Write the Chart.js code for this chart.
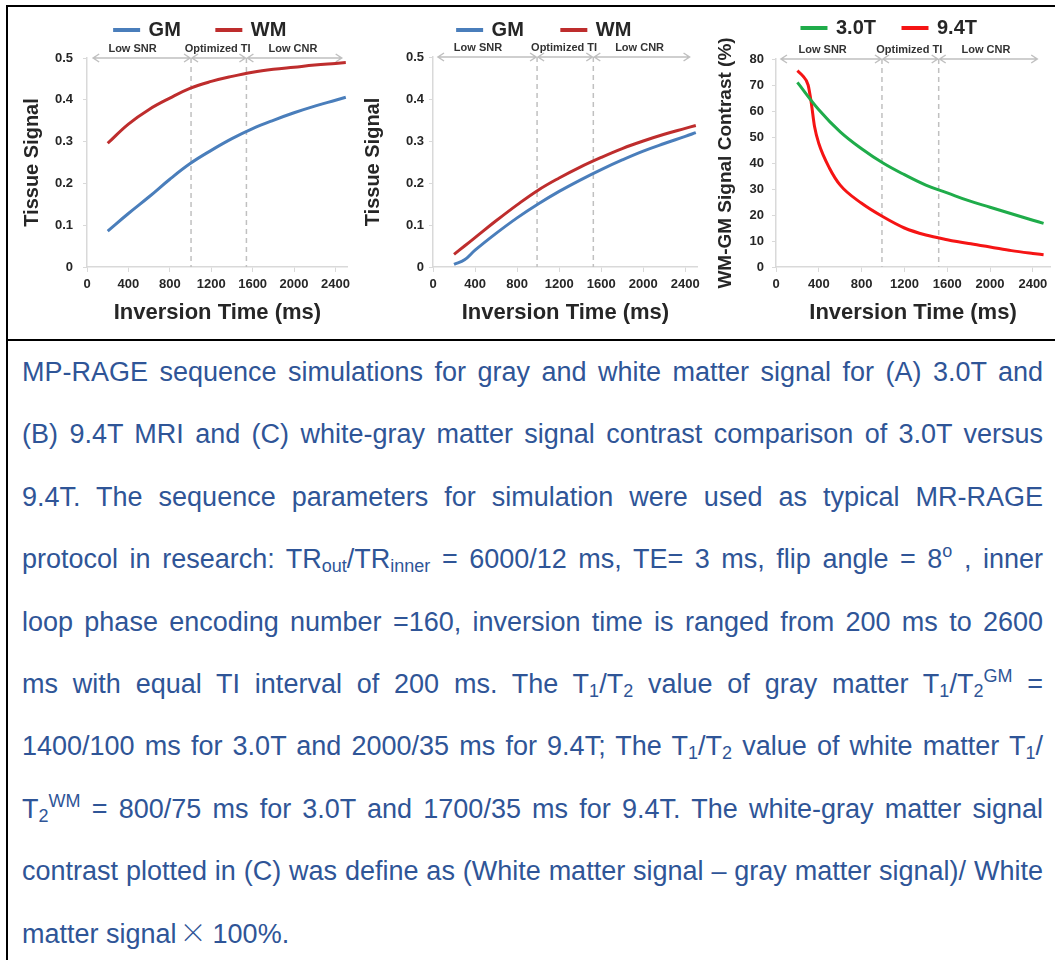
<!DOCTYPE html>
<html>
<head>
<meta charset="utf-8">
<script src="https://cdn.jsdelivr.net/npm/chart.js@4.4.0/dist/chart.umd.min.js"></script>
<style>
html, body { margin: 0; padding: 0; background: #fff; }
body { width: 1055px; height: 960px; position: relative; overflow: hidden; font-family: 'Liberation Sans', Arial, sans-serif; }
.rule { position: absolute; background: #000; }
.panel { position: absolute; top: 7px; }
#caption { position: absolute; left: 22px; top: 341px; width: 1021px; color: #2f5597; font-size: 27px; line-height: 62.4px; }
#caption div { text-align: justify; text-align-last: justify; }
#caption div.last { text-align-last: left; }
#caption sub, #caption sup { font-size: 18px; line-height: 0; }
#caption sub { vertical-align: -4px; }
#caption sup { vertical-align: 11px; }
.times { font-family: 'Noto Sans CJK SC', sans-serif; font-weight: 300; line-height: 0; margin: 0 6px 0 3px; }
</style>
</head>
<body>
<div class="rule" style="left:6px;top:5px;width:1049px;height:2px"></div>
<div class="rule" style="left:6px;top:5px;width:2px;height:955px"></div>
<div class="rule" style="left:6px;top:339px;width:1049px;height:2px"></div>

<canvas id="panelA" class="panel" width="347" height="332" style="left:8px"></canvas>
<canvas id="panelB" class="panel" width="350" height="332" style="left:355px"></canvas>
<canvas id="panelC" class="panel" width="350" height="332" style="left:705px"></canvas>

<div id="caption">
<div>MP-RAGE sequence simulations for gray and white matter signal for (A) 3.0T and</div>
<div>(B) 9.4T MRI and (C) white-gray matter signal contrast comparison of 3.0T versus</div>
<div>9.4T. The sequence parameters for simulation were used as typical MR-RAGE</div>
<div>protocol in research: TR<sub>out</sub>/TR<sub>inner</sub> = 6000/12 ms, TE= 3 ms, flip angle = 8<sup>o</sup> , inner</div>
<div>loop phase encoding number =160, inversion time is ranged from 200 ms to 2600</div>
<div>ms with equal TI interval of 200 ms. The T<sub>1</sub>/T<sub>2</sub> value of gray matter T<sub>1</sub>/T<sub>2</sub><sup>GM</sup> =</div>
<div>1400/100 ms for 3.0T and 2000/35 ms for 9.4T; The T<sub>1</sub>/T<sub>2</sub> value of white matter T<sub>1</sub>/</div>
<div>T<sub>2</sub><sup>WM</sup> = 800/75 ms for 3.0T and 1700/35 ms for 9.4T. The white-gray matter signal</div>
<div>contrast plotted in (C) was define as (White matter signal – gray matter signal)/ White</div>
<div class="last">matter signal<span class="times">×</span>100%.</div>
</div>

<script>
// (A) 3.0T tissue signal
const tiA = [200, 400, 600, 800, 1000, 1200, 1400, 1600, 1800, 2000, 2200, 2400, 2500];
const gmA = [0.086, 0.128, 0.168, 0.21, 0.248, 0.279, 0.307, 0.331, 0.351, 0.369, 0.385, 0.399, 0.406];
const wmA = [0.296, 0.342, 0.377, 0.404, 0.428, 0.444, 0.456, 0.466, 0.473, 0.478, 0.483, 0.487, 0.489];

// (B) 9.4T tissue signal
const tiB = [200, 300, 400, 600, 800, 1000, 1200, 1400, 1600, 1800, 2000, 2200, 2400, 2500];
const gmB = [0.006, 0.017, 0.04, 0.08, 0.117, 0.15, 0.18, 0.207, 0.232, 0.255, 0.276, 0.294, 0.311, 0.32];
const wmB = [0.03, 0.05, 0.07, 0.11, 0.148, 0.183, 0.212, 0.238, 0.261, 0.282, 0.3, 0.316, 0.33, 0.337];

// (C) WM-GM contrast, %
const tiC3 = [200, 400, 600, 800, 1000, 1200, 1400, 1600, 1800, 2000, 2200, 2400, 2500];
const contrast3T = [71, 60.5, 52, 45.5, 40, 35.5, 31.5, 28.5, 25.5, 23, 20.5, 18, 16.8];
const tiC9 = [200, 250, 300, 330, 360, 400, 500, 600, 800, 1000, 1200, 1400, 1600, 1800, 2000, 2200, 2400, 2500];
const contrast94T = [75.5, 73.5, 70, 63, 54, 47.5, 38, 31.5, 24.5, 19.3, 15, 12.3, 10.5, 9, 7.7, 6.3, 5.2, 4.7];

const xTicks = [0, 400, 800, 1200, 1600, 2000, 2400];
const zoneLabels = ['Low SNR', 'Optimized TI', 'Low CNR'];

const FONT = "'Liberation Sans', Arial, sans-serif";
const INK = '#262626';
const AXIS = '#d9d9d9';

function pts(xs, ys) {
    return xs.map((x, i) => ({ x: x, y: ys[i] }));
}

// dashed TI boundaries + double arrows + region labels
const zonePlugin = {
    id: 'zones',
    beforeDatasetsDraw(chart, args, opts) {
        const { ctx, chartArea } = chart;
        const x = chart.scales.x;
        const top = chartArea.top;
        ctx.save();
        ctx.strokeStyle = '#c0c0c0';
        ctx.lineWidth = 1.5;
        ctx.setLineDash([5, 4]);
        opts.splits.forEach(v => {
            const px = x.getPixelForValue(v);
            ctx.beginPath();
            ctx.moveTo(px, top);
            ctx.lineTo(px, chartArea.bottom);
            ctx.stroke();
        });
        ctx.setLineDash([]);
        const edges = [opts.from].concat(opts.splits, [opts.to]);
        for (let i = 0; i < edges.length - 1; i++) {
            const a = x.getPixelForValue(edges[i]) + 1;
            const b = x.getPixelForValue(edges[i + 1]) - 1;
            ctx.beginPath();
            ctx.moveTo(a, top);
            ctx.lineTo(b, top);
            ctx.moveTo(a + 6, top - 4);
            ctx.lineTo(a, top);
            ctx.lineTo(a + 6, top + 4);
            ctx.moveTo(b - 6, top - 4);
            ctx.lineTo(b, top);
            ctx.lineTo(b - 6, top + 4);
            ctx.stroke();
        }
        ctx.fillStyle = '#333';
        ctx.font = 'bold 11px ' + FONT;
        ctx.textAlign = 'center';
        ctx.textBaseline = 'middle';
        zoneLabels.forEach((t, i) => ctx.fillText(t, x.getPixelForValue(opts.labelAt[i]), top - opts.gap));
        ctx.restore();
    }
};

// fixed legend band height and position
const legendPlace = {
    id: 'legendPlace',
    beforeLayout(chart, args, opts) {
        const lg = chart.legend;
        if (lg && !lg._fixed) {
            const fit = lg.fit;
            lg.fit = function () { fit.call(this); this.height = opts.height; };
            lg._fixed = true;
        }
    },
    afterLayout(chart, args, opts) {
        const lg = chart.legend;
        const lo = lg.options.labels;
        lg.top = opts.textY - lo.padding - lo.font.size / 2;
        lg.left += opts.shift;
        lg.right += opts.shift;
    }
};

function lineSet(label, data, color, mode) {
    return {
        label: label,
        data: data,
        borderColor: color,
        backgroundColor: color,
        borderWidth: 3,
        pointRadius: 0,
        fill: false,
        tension: 0.4,
        cubicInterpolationMode: mode || 'default'
    };
}

function makePanel(id, datasets, p) {
    new Chart(document.getElementById(id), {
        type: 'line',
        data: { datasets: datasets },
        plugins: [zonePlugin, legendPlace],
        options: {
            responsive: false,
            animation: false,
            devicePixelRatio: 1,
            layout: { padding: { left: 0, right: p.padRight, top: 0, bottom: 0 } },
            plugins: {
                tooltip: { enabled: false },
                legend: {
                    position: 'top',
                    labels: {
                        boxWidth: 24,
                        boxHeight: 1,
                        padding: p.legendGap,
                        color: INK,
                        font: { family: FONT, weight: 'bold', size: 20 }
                    }
                },
                legendPlace: { height: p.top, shift: p.legendShift, textY: p.legendY },
                zones: { from: p.zoneFrom, to: p.zoneTo, splits: p.splits, labelAt: p.labelAt, gap: 9 }
            },
            scales: {
                x: {
                    type: 'linear',
                    min: 0,
                    max: p.xMax,
                    afterFit: s => { s.height = 72; },
                    afterBuildTicks: s => { s.ticks = xTicks.map(v => ({ value: v })); },
                    ticks: {
                        autoSkip: false, maxRotation: 0, padding: 5, color: INK,
                        font: { family: FONT, weight: 'bold', size: 13 },
                        callback: v => String(v)
                    },
                    grid: { drawOnChartArea: false, drawTicks: true, tickLength: 5, color: AXIS },
                    border: { color: AXIS, width: 1.5 },
                    title: { display: true, text: 'Inversion Time (ms)', color: INK, font: { family: FONT, weight: 'bold', size: 22 }, padding: { top: 0, bottom: 13 } }
                },
                y: {
                    min: 0,
                    max: p.yMax,
                    afterFit: s => { s.width = p.yWidth; },
                    ticks: { stepSize: p.yStep, padding: p.yTickPad, color: INK, font: { family: FONT, weight: 'bold', size: 13 } },
                    grid: { drawOnChartArea: false, drawTicks: true, tickLength: 4, color: AXIS },
                    border: { color: AXIS, width: 1.5 },
                    title: { display: true, text: p.yTitle, color: INK, font: { family: FONT, weight: 'bold', size: p.yTitleSize }, padding: { top: p.yTitlePad, bottom: 0 } }
                }
            }
        }
    });
}

makePanel('panelA', [
    lineSet('GM', pts(tiA, gmA), '#4a7ebb'),
    lineSet('WM', pts(tiA, wmA), '#be2d2d')
], {
    padRight: 2, top: 51, legendGap: 36, legendShift: 20, legendY: 23,
    zoneFrom: 50, zoneTo: 2470, splits: [1005, 1540], labelAt: [440, 1262, 1990],
    xMax: 2520, yMax: 0.5, yStep: 0.1, yWidth: 79, yTickPad: 10,
    yTitle: 'Tissue Signal', yTitleSize: 20, yTitlePad: 12
});

makePanel('panelB', [
    lineSet('GM', pts(tiB, gmB), '#4a7ebb'),
    lineSet('WM', pts(tiB, wmB), '#be2d2d')
], {
    padRight: 5, top: 50, legendGap: 38, legendShift: 17, legendY: 23,
    zoneFrom: 38, zoneTo: 2450, splits: [990, 1525], labelAt: [428, 1247, 1965],
    xMax: 2520, yMax: 0.5, yStep: 0.1, yWidth: 78, yTickPad: 5,
    yTitle: 'Tissue Signal', yTitleSize: 20, yTitlePad: 6
});

makePanel('panelC', [
    lineSet('3.0T', pts(tiC3, contrast3T), '#1fac4a'),
    lineSet('9.4T', pts(tiC9, contrast94T), '#f51414', 'monotone')
], {
    padRight: 5, top: 52, legendGap: 27, legendShift: 12, legendY: 21,
    zoneFrom: 37, zoneTo: 2450, splits: [990, 1520], labelAt: [436, 1245, 1961],
    xMax: 2560, yMax: 80, yStep: 10, yWidth: 71, yTickPad: 8,
    yTitle: 'WM-GM Signal Contrast (%)', yTitleSize: 19, yTitlePad: 9
});

// keep each caption line on one row if it would wrap
document.querySelectorAll('#caption div').forEach(el => {
    let ws = 0;
    while (el.getBoundingClientRect().height > 100 && ws > -6) {
        ws -= 0.5;
        el.style.wordSpacing = ws + 'px';
    }
});
</script>
</body>
</html>
